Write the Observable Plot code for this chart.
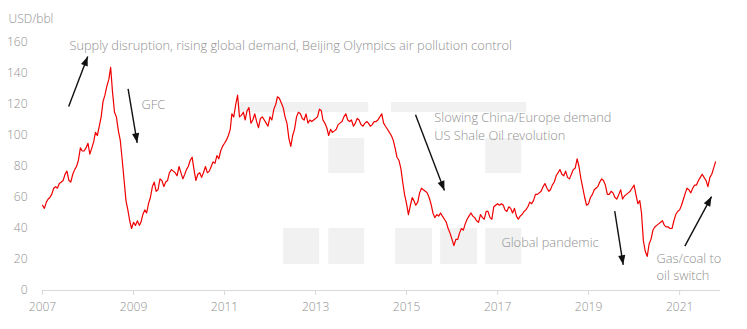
<!DOCTYPE html>
<html>
<head>
<meta charset="utf-8">
<script src="https://cdn.jsdelivr.net/npm/d3@7"></script>
<script src="https://cdn.jsdelivr.net/npm/@observablehq/plot@0.6"></script>
<style>
  html, body { margin: 0; padding: 0; background: #fff; }
  #chart svg { display: block; }
</style>
</head>
<body>
<div id="chart"></div>
<script>
// Brent crude price, USD/bbl, two readings per month (1st and 16th)
const p2007 = [55,53, 57,59, 60,62, 66,67, 66,69, 70,71, 75,77, 71,70, 75,78, 80,84, 92,90, 90,92];
const p2008 = [95,88, 92,96, 102,100, 106,112, 122,126, 132,136, 144,128, 115,112, 103,97, 85,72, 58,52, 45,40];
const p2009 = [44,42, 45,42, 44,49, 52,50, 56,60, 67,70, 64,65, 72,71, 67,70, 71,76, 78,77, 76,74];
const p2010 = [80,76, 72,75, 78,80, 84,86, 78,71, 75,76, 73,76, 80,76, 77,80, 83,82, 87,85, 90,93];
const p2011 = [95,97, 100,104, 114,112, 120,126, 112,113, 115,110, 116,118, 108,110, 114,109, 105,111, 112,110, 108,106];
const p2012 = [112,110, 117,120, 125,124, 121,118, 112,108, 98,93, 100,104, 112,115, 114,111, 110,114, 108,110, 109,110];
const p2013 = [111,112, 117,116, 110,108, 105,100, 104,102, 103,104, 107,108, 109,112, 114,110, 109,110, 106,108, 111,110];
const p2014 = [107,106, 108,109, 108,106, 107,109, 109,110, 112,114, 108,106, 104,102, 100,97, 92,86, 84,79, 70,62];
const p2015 = [56,49, 55,60, 58,55, 57,63, 66,65, 64,63, 60,56, 50,47, 49,48, 50,48, 46,44, 40,37];
const p2016 = [33,29, 33,33, 37,40, 39,43, 46,48, 50,48, 47,45, 44,49, 47,46, 51,51, 47,46, 54,55];
const p2017 = [56,55, 56,55, 52,51, 54,53, 50,53, 48,46, 48,49, 51,52, 54,57, 56,58, 62,62, 63,64];
const p2018 = [67,69, 66,64, 65,68, 70,74, 76,78, 75,74, 77,73, 72,75, 78,79, 85,80, 72,66, 60,55];
const p2019 = [56,60, 62,65, 66,67, 70,72, 71,68, 62,62, 64,63, 60,59, 62,65, 59,61, 62,63, 64,66];
const p2020 = [68,62, 56,58, 50,32, 25,22, 30,33, 39,41, 42,43, 44,45, 42,41, 41,40, 40,45, 49,51];
const p2021 = [52,55, 59,63, 66,65, 63,66, 68,68, 71,73, 75,73, 71,67, 73,75, 79,83];
const years = [2007,2008,2009,2010,2011,2012,2013,2014,2015,2016,2017,2018,2019,2020,2021];
const yearly = [p2007,p2008,p2009,p2010,p2011,p2012,p2013,p2014,p2015,p2016,p2017,p2018,p2019,p2020,p2021];

const yTicks = [0,20,40,60,80,100,120,140,160];
const xTickYears = [2007,2009,2011,2013,2015,2017,2019,2021];

const labels = [
  {date: "2007-08-05", v: 158.7, lh: 1.3, text: "Supply disruption, rising global demand, Beijing Olympics air pollution control"},
  {date: "2009-03-06", v: 120.6, lh: 1.3, text: "GFC"},
  {date: "2015-08-12", v: 106.5, lh: 1.4, text: "Slowing China/Europe demand\nUS Shale Oil revolution"},
  {date: "2017-02-01", v: 31.6, lh: 1.3, text: "Global pandemic"},
  {date: "2020-06-30", v: 15.5, lh: 1.3, text: "Gas/coal to\noil switch"}
];
const arrowFrom = [["2007-07-30",118.7],["2008-11-18",130.1],["2015-03-14",113.4],["2019-07-30",51.2],["2021-02-12",28.6]];
const arrowTo   = [["2007-12-30",151.0],["2009-01-30",95.3],["2015-11-01",64.5],["2019-10-06",16.6],["2021-09-14",60.6]];

// light grey background blocks (decimal years, value ranges)
const blocks = [
  [2011.31,2014.17,114.8,121.3],[2014.67,2017.64,114.8,121.3],
  [2013.29,2014.08,75.5,98.1],[2016.74,2017.53,75.5,98.1],
  [2012.30,2013.09,16.8,40],[2013.29,2014.08,16.8,40],[2014.76,2015.57,16.8,40],
  [2015.75,2016.56,16.8,40],[2016.74,2017.53,16.8,40]
];

// ---- build tables ----
const series = [];
years.forEach((yr, k) => {
  yearly[k].forEach((v, i) => {
    series.push({date: new Date(Date.UTC(yr, Math.floor(i/2), i % 2 ? 16 : 1)), value: v});
  });
});
const decYear = (y) => {
  const yr = Math.floor(y);
  const a = Date.UTC(yr,0,1), b = Date.UTC(yr+1,0,1);
  return new Date(a + (y - yr) * (b - a));
};
const blockData = blocks.map(([x1,x2,y1,y2]) => ({x1: decYear(x1), x2: decYear(x2), y1, y2}));
const labelData = labels.map(d => ({...d, date: new Date(d.date)}));

const W = 747, H = 329, mL = 42, mR = 27, mT = 42, mB = 39;
const xDomain = [new Date("2007-01-01"), new Date("2021-11-25")];
const sx = Plot.scale({x: {type: "utc", domain: xDomain, range: [mL, W - mR]}});
const sy = Plot.scale({y: {type: "linear", domain: [0, 160], range: [H - mB, mT]}});
const arrows = arrowFrom.map((f, i) => {
  const t = arrowTo[i];
  const x1 = new Date(f[0]), x2 = new Date(t[0]);
  const dx = sx.apply(x2) - sx.apply(x1), dy = sy.apply(t[1]) - sy.apply(f[1]);
  return {x1, y1: f[1], x2, y2: t[1], angle: Math.atan2(dx, -dy) * 180 / Math.PI};
});
const head = {
  draw(ctx) { ctx.moveTo(0, 0); ctx.lineTo(-3.6, 9.5); ctx.lineTo(3.6, 9.5); ctx.closePath(); }
};

const textMarks = labelData.map(d => Plot.text([d], {
  x: "date", y: "v", text: "text", textAnchor: "start", lineAnchor: "middle",
  lineHeight: d.lh, fill: "#8f8f8f", fontSize: 12.8
}));

const chart = Plot.plot({
  width: W, height: H,
  marginLeft: mL, marginRight: mR, marginTop: mT, marginBottom: mB,
  style: {fontFamily: "'Open Sans', sans-serif", fontSize: "12px", fontWeight: 300, color: "#8f8f8f", background: "#fff"},
  x: {type: "utc", domain: xDomain},
  y: {domain: [0, 160]},
  marks: [
    Plot.rect(blockData, {x1: "x1", x2: "x2", y1: "y1", y2: "y2", fill: "#f1f1f1"}),
    Plot.ruleY([0], {stroke: "#d9d9d9", strokeWidth: 1}),
    Plot.axisX(xTickYears.map(y => new Date(Date.UTC(y,0,1))), {tickSize: 5, tickPadding: 7, stroke: "#d9d9d9", tickFormat: d3.utcFormat("%Y"), fill: "#8f8f8f"}),
    Plot.axisY(yTicks, {tickSize: 0, tickPadding: 15, fill: "#8f8f8f", label: null}),
    Plot.text(["USD/bbl"], {frameAnchor: "top-left", dx: -34, dy: -28, textAnchor: "start", fill: "#8f8f8f"}),
    Plot.line(series, {x: "date", y: "value", stroke: "#f00000", strokeWidth: 1.2}),
    Plot.link(arrows, {x1: "x1", y1: "y1", x2: "x2", y2: "y2", stroke: "#111", strokeWidth: 1.4}),
    Plot.dot(arrows, {x: "x2", y: "y2", symbol: head, rotate: "angle", fill: "#111", stroke: "none", r: 4}),
    ...textMarks
  ]
});
document.getElementById("chart").appendChild(chart);
</script>
</body>
</html>
